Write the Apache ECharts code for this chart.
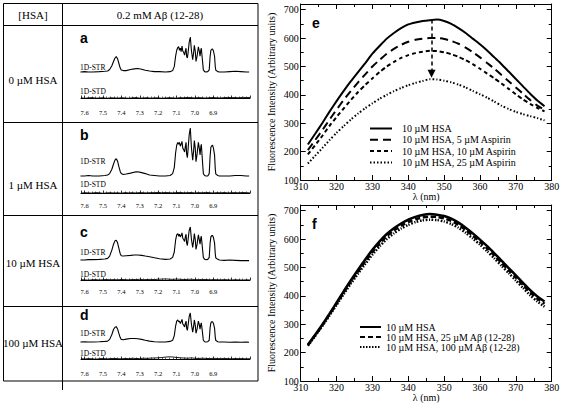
<!DOCTYPE html>
<html><head><meta charset="utf-8">
<script src="https://cdn.jsdelivr.net/npm/echarts@6/dist/echarts.min.js"></script>
<style>html,body{margin:0;padding:0;background:#fff}#c{width:562px;height:403px}</style>
</head><body><div id="c"></div>
<script>
// ---------------- DATA ----------------
const headerLeft = '[HSA]';
const headerRight = '0.2 mM Aβ (12-28)';
const rowLabels = ['0 µM HSA', '1 µM HSA', '10 µM HSA', '100 µM HSA'];
const rowLetters = ['a', 'b', 'c', 'd'];
const strLabel = '1D-STR';
const stdLabel = '1D-STD';

// chemical shift (ppm) for the 1D-STR traces
const ppm = [7.623,7.60,7.58,7.555,7.52,7.49,7.475,
 7.464,7.452,7.443,7.435,7.428,7.421,7.414,7.407,7.401,7.39,7.374,
 7.35,7.33,7.311,7.29,7.27,7.247,7.22,7.193,7.16,7.135,
 7.121,7.112,7.105,7.099,7.093,7.088,7.084,7.079,7.075,7.070,7.066,7.061,
 7.056,7.052,7.048,7.045,7.041,7.037,7.031,7.025,7.019,7.012,7.007,7.003,
 6.998,6.994,6.988,6.981,6.976,6.972,6.968,6.965,6.960,6.954,6.947,6.940,
 6.930,6.922,6.917,6.913,6.908,6.904,6.899,6.893,6.889,6.886,6.875,6.867,
 6.84,6.81,6.78,6.75,6.72,6.705];
const strA = [0.0,0.01,0.0,0.0,0.01,0.02,0.03,
 0.07,0.18,0.30,0.40,0.44,0.38,0.25,0.12,0.06,0.04,0.04,
 0.07,0.09,0.10,0.08,0.05,0.03,0.01,0.01,0.0,0.01,
 0.04,0.16,0.45,0.62,0.70,0.72,0.62,0.68,0.58,0.74,0.60,0.56,
 0.48,0.60,0.68,0.45,0.40,0.55,0.85,1.0,0.62,0.35,0.55,0.76,
 0.60,0.30,0.45,0.72,0.60,0.45,0.62,0.68,0.40,0.06,0.01,0.0,
 0.01,0.06,0.45,0.62,0.65,0.66,0.60,0.45,0.15,0.05,0.01,0.0,
 0.0,0.01,0.02,0.01,0.0,0.0];
const strB = [0.0,0.0,0.01,0.0,0.0,0.01,0.02,
 0.05,0.14,0.25,0.33,0.36,0.31,0.20,0.10,0.05,0.03,0.04,
 0.06,0.08,0.09,0.07,0.05,0.02,0.01,0.0,0.0,0.01,
 0.05,0.18,0.48,0.64,0.70,0.66,0.70,0.62,0.66,0.72,0.58,0.55,
 0.50,0.62,0.70,0.46,0.38,0.56,0.86,1.0,0.60,0.33,0.52,0.74,
 0.58,0.30,0.46,0.70,0.58,0.44,0.60,0.66,0.38,0.05,0.01,0.0,
 0.0,0.05,0.42,0.60,0.63,0.64,0.58,0.44,0.14,0.04,0.01,0.0,
 0.0,0.0,0.01,0.01,0.0,0.0];
const strC = [0.0,0.0,0.01,0.01,0.02,0.03,0.05,
 0.12,0.30,0.48,0.58,0.60,0.52,0.36,0.20,0.13,0.12,0.13,
 0.14,0.15,0.15,0.14,0.12,0.10,0.07,0.04,0.02,0.03,
 0.08,0.25,0.60,0.76,0.80,0.72,0.78,0.70,0.74,0.82,0.66,0.62,
 0.56,0.70,0.78,0.52,0.44,0.62,0.90,1.0,0.64,0.38,0.58,0.80,
 0.62,0.32,0.48,0.76,0.62,0.48,0.66,0.72,0.42,0.08,0.02,0.01,
 0.02,0.08,0.52,0.70,0.74,0.74,0.68,0.52,0.18,0.06,0.02,0.0,
 -0.01,0.0,-0.01,-0.02,-0.02,-0.02];
const strD = [0.0,0.01,0.0,0.0,0.01,0.02,0.03,
 0.09,0.26,0.43,0.51,0.53,0.45,0.30,0.16,0.09,0.08,0.10,
 0.12,0.12,0.11,0.09,0.06,0.03,0.01,0.0,0.0,0.02,
 0.06,0.22,0.55,0.72,0.76,0.70,0.72,0.64,0.70,0.78,0.62,0.58,
 0.52,0.64,0.72,0.48,0.40,0.58,0.88,1.0,0.62,0.34,0.54,0.76,
 0.58,0.30,0.45,0.72,0.60,0.44,0.60,0.66,0.40,0.06,0.01,0.0,
 0.01,0.06,0.50,0.66,0.70,0.70,0.64,0.48,0.16,0.05,0.01,0.0,
 0.0,-0.01,0.0,-0.01,0.0,-0.01];

// chemical shift (ppm) for the 1D-STD traces
const stdPpm = [7.62,7.60,7.58,7.56,7.54,7.52,7.50,7.48,7.46,7.44,7.42,7.40,7.38,7.36,7.34,7.32,
 7.30,7.28,7.26,7.24,7.22,7.20,7.18,7.16,7.14,7.12,7.10,7.08,7.06,7.04,7.02,7.00,
 6.98,6.96,6.94,6.92,6.90,6.88,6.86,6.84,6.82,6.80,6.78,6.76,6.74,6.72,6.70];
const stdA = [0.2,-0.3,0.1,0.4,-0.2,0.0,0.3,-0.4,0.2,0.1,-0.2,0.3,0.0,-0.3,0.2,0.4,-0.1,0.0,0.3,-0.2,
 0.1,0.2,-0.3,0.0,0.3,0.1,-0.2,0.4,0.2,0.6,0.3,0.1,0.4,0.2,-0.1,0.3,0.5,0.2,0.0,0.4,0.6,0.3,0.5,0.2,0.7,0.4,0.6];
const stdB = [-0.2,0.3,0.1,-0.1,0.4,0.2,-0.3,0.1,0.3,0.0,0.2,-0.2,0.4,0.1,0.3,0.0,0.5,0.2,0.1,0.4,
 0.3,0.6,0.2,0.5,0.3,0.1,0.4,0.6,0.2,0.3,0.5,0.1,0.4,0.2,0.6,0.3,0.0,0.4,0.2,0.5,0.1,0.3,0.4,0.2,0.5,0.3,0.1];
const stdC = [0.3,0.1,-0.2,0.2,0.4,0.0,0.3,0.5,0.2,0.4,0.1,0.6,0.3,0.2,0.5,0.4,0.7,0.3,0.5,0.6,
 0.4,0.8,0.9,1.1,0.8,0.6,0.9,0.7,0.5,0.6,0.8,0.4,0.3,0.6,0.5,0.2,0.4,0.3,0.1,0.4,0.2,0.0,0.3,0.1,-0.1,0.2,0.0];
const stdD = [0.3,0.0,0.4,0.2,-0.2,0.3,0.5,0.1,0.4,0.6,0.3,0.2,0.5,0.4,0.7,0.5,0.4,0.8,0.6,0.9,
 1.0,1.2,1.5,1.9,2.2,2.0,1.6,1.2,1.0,0.8,1.1,0.7,0.5,0.8,0.6,0.4,0.7,0.5,0.3,0.6,0.4,0.2,0.5,0.3,0.4,0.2,0.3];

// wavelength (nm) for fluorescence spectra
const wl = [312,314,316,318,320,322,324,326,328,330,332,334,336,338,340,342,344,346,348,350,
 352,354,356,358,360,362,364,366,368,370,372,374,376,378];
const eNames = ['10 µM HSA', '10 µM HSA, 5 µM Aspirin', '10 µM HSA, 10 µM Aspirin', '10 µM HSA, 25 µM Aspirin'];
const eHSA = [225,262,300,340,378,414,448,480,512,545,572,598,618,635,648,655,660,663,665,660,
 650,635,618,598,578,556,532,508,482,456,430,404,380,360];
const eAsp5 = [205,240,275,312,348,382,414,444,472,500,523,545,562,576,587,594,598,600,600,597,
 590,580,566,550,532,512,492,470,448,426,404,382,362,348];
const eAsp10 = [190,222,255,290,322,352,382,410,435,458,480,500,516,530,540,547,552,555,554,550,
 543,534,522,508,492,475,458,440,421,402,384,368,354,342];
const eAsp25 = [158,185,212,240,266,290,313,334,353,370,386,400,413,424,434,442,449,455,454,450,
 444,436,426,414,402,390,376,362,350,340,332,325,318,310];
const arrowNm = 346.5, arrowFrom = 665, arrowTo = 474;

const fNames = ['10 µM HSA', '10 µM HSA, 25 µM Aβ (12-28)', '10 µM HSA, 100 µM Aβ (12-28)'];
const fHSA = [228,262,298,336,376,416,455,492,528,562,592,618,638,655,668,678,685,688,686,681,
 672,658,640,620,598,575,550,524,498,472,446,420,398,380];
const fAb25 = [226,260,296,334,373,412,450,486,521,554,584,610,630,647,660,670,676,679,678,673,
 664,650,632,612,590,567,542,516,490,464,438,412,390,372];
const fAb100 = [224,258,293,330,368,406,443,478,512,545,574,600,620,637,650,660,666,668,667,662,
 653,640,622,602,580,557,532,506,480,454,428,402,380,362];
const axisX = 'λ (nm)';
const axisY = 'Fluorescence Intensity (Arbitrary units)';

// ---------------- LAYOUT / STYLE ----------------
const SERIF = 'Liberation Serif';
const fSerif = px => px + "px 'Liberation Serif'";
const fSansB = px => "bold " + px + "px 'Liberation Sans'";
const NMR_L = 81, NMR_W = 169, PPM_MIN = 6.7, PPM_MAX = 7.62;
const rows = [
  {labelY: 80,  letterY: 38,  strTop: 37,  strBase: 72,  strLabelY: 67,  stdLabelY: 91,  stdY: 98,  axisY: 106},
  {labelY: 185, letterY: 135, strTop: 128, strBase: 176, strLabelY: 161, stdLabelY: 184, stdY: 193, axisY: 199},
  {labelY: 263, letterY: 232, strTop: 227, strBase: 260, strLabelY: 252, stdLabelY: 274, stdY: 280, axisY: 285},
  {labelY: 343, letterY: 315, strTop: 313, strBase: 342, strLabelY: 333, stdLabelY: 353, stdY: 359, axisY: 367}
];
const strRows = [strA, strB, strC, strD];
const stdRows = [stdA, stdB, stdC, stdD];

function zip(xs, ys) { const n = Math.min(xs.length, ys.length), o = []; for (let i = 0; i < n; i++) o.push([xs[i], ys[i]]); return o; }

const option = { animation: false, backgroundColor: '#fff', grid: [], xAxis: [], yAxis: [], series: [], legend: [], graphic: [] };
const black = '#000';

rows.forEach((L, r) => {
  let g = option.grid.length;
  option.grid.push({left: NMR_L, width: NMR_W, top: L.strTop, height: L.strBase - L.strTop, containLabel: false, outerBoundsMode: 'none'});
  option.xAxis.push({gridIndex: g, type: 'value', min: PPM_MIN, max: PPM_MAX, inverse: true, show: false});
  option.yAxis.push({gridIndex: g, type: 'value', min: 0, max: 1, show: false});
  option.series.push({type: 'line', xAxisIndex: g, yAxisIndex: g, data: zip(ppm, strRows[r]), symbol: 'none', clip: false, silent: true,
    lineStyle: {color: black, width: 1.1}});
  g = option.grid.length;
  option.grid.push({left: NMR_L, width: NMR_W, top: L.stdY - 6, height: L.axisY - L.stdY + 6, containLabel: false, outerBoundsMode: 'none'});
  option.xAxis.push({gridIndex: g, type: 'value', min: PPM_MIN, max: PPM_MAX, interval: 0.1, inverse: true,
    axisLine: {lineStyle: {color: black, width: 1}},
    axisTick: {inside: true, length: 2.5, lineStyle: {color: black, width: 0.8}},
    minorTick: {show: true, splitNumber: 5, length: 1.5, lineStyle: {color: black, width: 0.6}},
    splitLine: {show: false}, minorSplitLine: {show: false},
    axisLabel: {color: black, fontFamily: SERIF, fontSize: 6.5, margin: 3,
      formatter: v => { const q = Math.round(v * 10) / 10; return (Math.abs(v - q) > 1e-6 || q < 6.85 || q > 7.65) ? '' : q.toFixed(1); }}});
  option.yAxis.push({gridIndex: g, type: 'value', min: -(L.axisY - L.stdY), max: 6, show: false});
  option.series.push({type: 'line', xAxisIndex: g, yAxisIndex: g, data: zip(stdPpm, stdRows[r]), symbol: 'none', clip: false, silent: true,
    lineStyle: {color: black, width: 0.9}});
});

function specPanel(top, names, vals, styles, legendPos, letter, arrow) {
  const g = option.grid.length;
  option.grid.push({left: 300.7, width: 251, top: top, height: 176, containLabel: false, outerBoundsMode: 'none'});
  const tick = {inside: true, length: 5, lineStyle: {color: black, width: 1}};
  const minor = {show: true, splitNumber: 2, length: 3, lineStyle: {color: black, width: 1}};
  const line = {lineStyle: {color: black, width: 1}};
  const xi = option.xAxis.length;
  option.xAxis.push({gridIndex: g, type: 'value', min: 310, max: 380, interval: 10, axisLine: line, axisTick: tick, minorTick: minor,
    splitLine: {show: false}, axisLabel: {color: black, fontFamily: SERIF, fontSize: 10, margin: 1},
    name: axisX, nameLocation: 'middle', nameGap: 9, nameTextStyle: {color: black, fontFamily: SERIF, fontSize: 10}});
  option.xAxis.push({gridIndex: g, type: 'value', position: 'top', min: 310, max: 380, interval: 10, axisLine: line, axisTick: tick, minorTick: minor,
    splitLine: {show: false}, axisLabel: {show: false}});
  const yi = option.yAxis.length;
  option.yAxis.push({gridIndex: g, type: 'value', min: 100, max: 720, interval: 100, axisLine: line, axisTick: tick, minorTick: minor,
    splitLine: {show: false}, axisLabel: {color: black, fontFamily: SERIF, fontSize: 10, margin: 2, formatter: v => (v % 100 === 0 ? String(v) : '')},
    name: axisY, nameLocation: 'middle', nameRotate: 90, nameGap: 24, nameTextStyle: {color: black, fontFamily: SERIF, fontSize: 10}});
  option.yAxis.push({gridIndex: g, type: 'value', position: 'right', min: 100, max: 720, interval: 100, axisLine: line, axisTick: tick, minorTick: minor,
    splitLine: {show: false}, axisLabel: {show: false}});
  names.forEach((n, i) => {
    const s = {type: 'line', name: n, xAxisIndex: xi, yAxisIndex: yi, data: zip(wl, vals[i]), symbol: 'none', smooth: 0.2, silent: true,
      lineStyle: {color: black, width: styles[i].w, type: styles[i].t}, itemStyle: {color: black, opacity: 0}};
    if (i === 0 && arrow) {
      s.markLine = {silent: true, symbol: ['none', 'triangle'], symbolSize: 8, label: {show: false},
        itemStyle: {opacity: 1, color: black},
        lineStyle: {color: black, width: 1.5, type: [4, 3], opacity: 1},
        data: [[{coord: [arrow[0], arrow[1]]}, {coord: [arrow[0], arrow[2]]}]]};
    }
    option.series.push(s);
  });
  option.legend.push(Object.assign({orient: 'vertical', selectedMode: false, data: names, itemHeight: 10, padding: 0,
    itemStyle: {opacity: 0, borderWidth: 0},
    textStyle: {color: black, fontFamily: SERIF, fontSize: 10}}, legendPos));
  option.graphic.push({type: 'text', style: {text: letter, x: 312, y: top + 19, font: fSansB(14), fill: black, verticalAlign: 'middle'}});
}

specPanel(4, eNames, [eHSA, eAsp5, eAsp10, eAsp25],
  [{w: 2, t: 'solid'}, {w: 2, t: [8, 5]}, {w: 2, t: [4, 3]}, {w: 2, t: [1.5, 2]}],
  {left: 369, top: 123.5, itemWidth: 22, itemGap: 1.3, textStyle: {color: black, fontFamily: SERIF, fontSize: 10, padding: [0, 0, 0, 5]}}, 'e',
  [arrowNm, arrowFrom, arrowTo]);
specPanel(205, fNames, [fHSA, fAb25, fAb100],
  [{w: 2.5, t: 'solid'}, {w: 2.5, t: [5, 3]}, {w: 2.5, t: [1.5, 1.5]}],
  {left: 359, top: 322, itemWidth: 21, itemGap: 0}, 'f', null);

// table frame
const ln = (x1, y1, x2, y2) => ({type: 'line', shape: {x1, y1, x2, y2}, style: {stroke: black, lineWidth: 1}});
option.graphic.push({type: 'rect', shape: {x: 3.5, y: 3.5, width: 254.5, height: 377.5}, style: {fill: 'none', stroke: black, lineWidth: 1}});
option.graphic.push(ln(3.5, 25.5, 258, 25.5), ln(62.5, 3.5, 62.5, 390), ln(3.5, 122.5, 258, 122.5), ln(3.5, 215.5, 258, 215.5), ln(3.5, 306.5, 258, 306.5));
const txt = (t, x, y, font, align) => ({type: 'text', style: {text: t, x, y, font, fill: black, align: align || 'center', verticalAlign: 'middle'}});
option.graphic.push(txt(headerLeft, 33, 15, fSerif(11)), txt(headerRight, 160, 15, fSerif(11)));
rows.forEach((L, r) => {
  option.graphic.push(txt(rowLabels[r], 33, L.labelY, fSerif(11)));
  option.graphic.push(txt(rowLetters[r], 80, L.letterY, fSansB(14), 'left'));
  option.graphic.push(txt(strLabel, 80, L.strLabelY, fSerif(7.5), 'left'));
  option.graphic.push(txt(stdLabel, 80, L.stdLabelY, fSerif(7.5), 'left'));
});

const chart = echarts.init(document.getElementById('c'), null, {renderer: 'svg'});
chart.setOption(option);
</script></body></html>
